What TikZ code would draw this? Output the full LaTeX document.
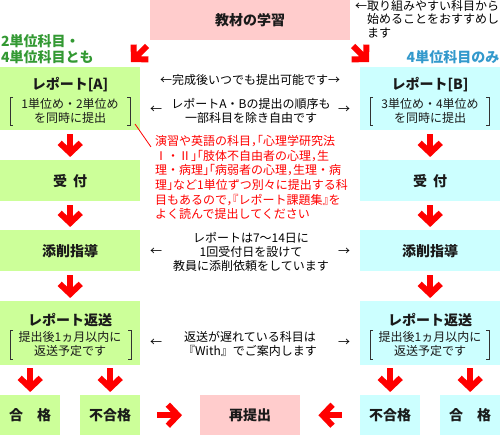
\documentclass[tikz,border=0pt]{standalone}
\usepackage{fontspec}
\setmainfont{Noto Sans CJK JP}
\newfontfamily\jphalt[RawFeature=+halt]{Noto Sans CJK JP}
\newfontfamily\jpreg{Noto Sans CJK JP}
\newcommand\nkg{{\jpreg ・}}
\usetikzlibrary{arrows.meta,calc}
\definecolor{boxgreen}{HTML}{CCFF99}
\definecolor{boxblue}{HTML}{CCFFFF}
\definecolor{boxpink}{HTML}{FFCCCC}
\definecolor{hdgreen}{HTML}{339933}
\definecolor{hdblue}{HTML}{3399CC}
\definecolor{brk}{HTML}{333333}
\definecolor{txt}{HTML}{1A1A1A}
\begin{document}
\begin{tikzpicture}[x=1pt,y=-1pt,
  base/.style={draw=none, inner sep=0pt, anchor=north west, text=txt,
    font=\bfseries\fontsize{14}{16}\selectfont},
  gbox/.style={base, fill=boxgreen, minimum width=140pt},
  bbox/.style={base, fill=boxblue, minimum width=140pt},
  pbox/.style={base, fill=boxpink},
  title/.style={inner sep=0pt, text=txt, font=\bfseries\fontsize{14}{16}\selectfont},
  sub/.style={inner sep=0pt, text=txt, align=center, font=\fontsize{12}{14}\selectfont},
  note/.style={inner sep=0pt, text=black, align=center, font=\fontsize{12}{14}\selectfont},
  brack/.style={draw=brk, line width=0.9pt},
  fat/.style={draw=red, line width=6pt, line join=miter,
    -{Straight Barb[length=10pt, width=21pt]}},
]
\path[use as bounding box] (0,0) rectangle (500,435);

% boxes
\node[pbox, minimum width=200pt, minimum height=40pt] (kyozai) at (150,0) {教材の学習};
\node[gbox, minimum height=63pt] (repA) at (0,67) {};
\node[bbox, minimum height=63pt] (repB) at (360,67) {};
\node[gbox, minimum height=41pt] (ukeA) at (0,160) {受\hspace{6pt}付};
\node[bbox, minimum height=41pt] (ukeB) at (360,160) {受\hspace{6pt}付};
\node[gbox, minimum height=41pt] (tenA) at (0,230) {添削指導};
\node[bbox, minimum height=41pt] (tenB) at (360,230) {添削指導};
\node[gbox, minimum height=64pt] (henA) at (0,301) {};
\node[bbox, minimum height=64pt] (henB) at (360,301) {};
\node[gbox, minimum width=60pt, minimum height=40pt] (passA) at (0,395) {合\hspace{14pt}格};
\node[gbox, minimum width=60pt, minimum height=40pt] (failA) at (80,395) {不合格};
\node[pbox, minimum width=100pt, minimum height=40pt] (resub) at (200,395) {再提出};
\node[bbox, minimum width=60pt, minimum height=40pt] (failB) at (360,395) {不合格};
\node[bbox, minimum width=60pt, minimum height=40pt] (passB) at (440,395) {合\hspace{14pt}格};

% box contents
\node[title] (repAt) at (70,85) {レポート[A]};
\node[sub] (repAs) at (70,111) {1単位め・2単位め\\を同時に提出};
\node[title] (repBt) at (430,85) {レポート[B]};
\node[sub] (repBs) at (430,111) {3単位め・4単位め\\を同時に提出};
\node[title] (henAt) at (70,320) {レポート返送};
\node[sub] (henAs) at (70,344) {提出後1ヵ月以内に\\返送予定です};
\node[title] (henBt) at (430,320) {レポート返送};
\node[sub] (henBs) at (430,344) {提出後1ヵ月以内に\\返送予定です};

% brackets
\draw[brack] (13,97) -- (10,97) -- (10,125) -- (13,125);
\draw[brack] (127,97) -- (130,97) -- (130,125) -- (127,125);
\draw[brack] (373,97) -- (370,97) -- (370,125) -- (373,125);
\draw[brack] (486,97) -- (489,97) -- (489,125) -- (486,125);
\draw[brack] (13,330) -- (10,330) -- (10,359) -- (13,359);
\draw[brack] (128,330) -- (131,330) -- (131,359) -- (128,359);
\draw[brack] (373,330) -- (370,330) -- (370,359) -- (373,359);
\draw[brack] (486,330) -- (489,330) -- (489,359) -- (486,359);

% headings
\node[inner sep=0pt, anchor=west, align=left, text=hdgreen,
  font=\bfseries\fontsize{14}{16}\selectfont] (hdA) at (1,49) {2単位科目・\\4単位科目とも};
\node[inner sep=0pt, text=hdblue, font=\bfseries\fontsize{14}{16}\selectfont] (hdB) at (453,57) {4単位科目のみ};

% top-right note
\node[note, anchor=north west, align=left, font=\fontsize{12}{13.5}\selectfont] (tip) at (355,0)
  {←取り組みやすい科目から\\\hspace*{12pt}始めることをおすすめし\\\hspace*{12pt}ます};

% middle notes
\node[note] (m1) at (250,80) {←完成後いつでも提出可能です→};
\node[note] (m2) at (251,111) {レポートA・Bの提出の順序も\\一部科目を除き自由です};
\node[note] (m2l) at (156,110) {←};
\node[note] (m2r) at (344,110) {→};
\node[note] (m3) at (251,252) {レポートは7～14日に\\1回受付日を設けて\\教員に添削依頼をしています};
\node[note] (m3l) at (156,252) {←};
\node[note] (m3r) at (344,252) {→};
\node[note] (m4) at (250,344) {返送が遅れている科目は\\『With』でご案内します};
\node[note] (m4l) at (156,343) {←};
\node[note] (m4r) at (344,343) {→};

% red remark
\node[inner sep=0pt, anchor=north west, align=left, text=red,
  font=\jphalt\fontsize{12}{14.7}\selectfont] (remark) at (155,135)
  {演習や英語の科目，「心理学研究法\\
   Ⅰ\nkg Ⅱ」「肢体不自由者の心理，生\\
   理\nkg 病理」「病弱者の心理，生理\nkg 病\\
   理」など1単位ずつ別々に提出する科\\
   目もあるので，『レポート課題集』を\\
   よく読んで提出してください};
\coordinate (leadA) at (135,124);
\draw[red, line width=0.8pt] (leadA) -- ($(remark.north west)+(-4,12)$);

% arrows
\coordinate (dLs) at (147,46);
\coordinate (dLe) at (131,62);
\coordinate (dRs) at (353,46);
\coordinate (dRe) at (369,62);
\draw[fat] (dLs) -- (dLe);
\draw[fat] (dRs) -- (dRe);
\foreach \a/\b in {repA/ukeA, ukeA/tenA, tenA/henA, repB/ukeB, ukeB/tenB, tenB/henB}
  \draw[fat, shorten <=4pt, shorten >=3pt] (\a.south) -- (\b.north);
\foreach \a/\b in {henA/passA, henA/failA, henB/failB, henB/passB}
  \draw[fat, shorten <=3pt, shorten >=3pt] (\a.south -| \b.north) -- (\b.north);
\draw[fat, shorten <=17pt, shorten >=18pt] (failA.east) -- (resub.west);
\draw[fat, shorten <=18pt, shorten >=18pt] (failB.west) -- (resub.east);
\end{tikzpicture}
\end{document}
